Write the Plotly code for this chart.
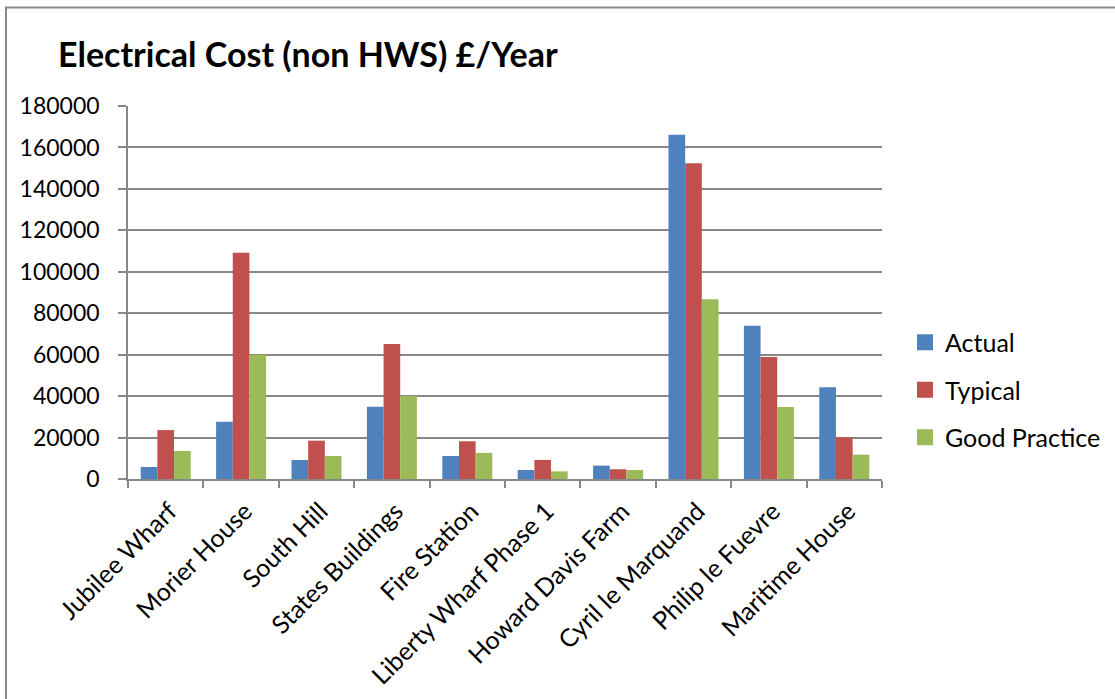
import plotly.graph_objects as go

# Annual electrical cost (excluding hot water services) per building
buildings = [
    "Jubilee Wharf", "Morier House", "South Hill", "States Buildings",
    "Fire Station", "Liberty Wharf Phase 1", "Howard Davis Farm",
    "Cyril le Marquand", "Philip le Fuevre", "Maritime House",
]
actual = [5800, 27600, 9150, 34850, 11100, 4350, 6450, 166100, 74000, 44300]
typical = [23600, 109200, 18500, 65200, 18200, 9200, 4700, 152400, 58900, 20100]
good_practice = [13500, 60000, 11100, 40000, 12600, 3700, 4350, 86800, 34800, 11750]

y_ticks = list(range(0, 180001, 20000))

series = [
    ("Actual", actual, "#4F81BD"),
    ("Typical", typical, "#C0504D"),
    ("Good Practice", good_practice, "#9BBB59"),
]

FONT = "Lato"
GRID = "#878787"

fig = go.Figure()
for name, values, colour in series:
    fig.add_trace(go.Bar(
        x=buildings, y=values, name=name,
        marker=dict(color=colour, line=dict(width=0)),
        showlegend=False,
    ))

# Legend entries with larger square swatches
for name, _, colour in series:
    fig.add_trace(go.Scatter(
        x=[None], y=[None], mode="markers", name=name,
        marker=dict(symbol="square", size=16, color=colour),
        legendgroup=name, showlegend=True,
    ))

W, H = 1115, 699
L, R, T, B = 128, W - 882, 106, H - 479
pw, ph = W - L - R, H - T - B

fig.update_layout(
    width=W, height=H,
    margin=dict(l=L, r=R, t=T, b=B, autoexpand=False),
    paper_bgcolor="white", plot_bgcolor="white",
    font=dict(family=FONT, size=22, color="black"),
    barmode="group", bargap=0.337, bargroupgap=0,
    title=dict(
        text="<b>Electrical Cost (non HWS) £/Year</b>",
        font=dict(family=FONT, size=34, color="black"),
        x=58 / W, xanchor="left", xref="container",
        y=1 - 55 / H, yanchor="middle", yref="container",
    ),
    legend=dict(
        x=(905 - L) / pw, xanchor="left",
        y=(479 - 390) / ph, yanchor="middle",
        traceorder="grouped", tracegroupgap=12,
        font=dict(family=FONT, size=25, color="black"),
        bgcolor="rgba(0,0,0,0)",
    ),
    xaxis=dict(
        type="category", tickangle=-45, tickson="boundaries",
        ticks="outside", ticklen=7, tickcolor=GRID, tickwidth=1.5,
        ticklabelstandoff=6, ticklabelshift=4,
        showline=True, linecolor=GRID, linewidth=1.5,
        showgrid=False, tickfont=dict(family=FONT, size=25, color="black"),
    ),
    yaxis=dict(
        range=[0, 180000], tickvals=y_ticks,
        ticktext=[str(v) for v in y_ticks],
        ticks="outside", ticklen=8, tickcolor=GRID, tickwidth=1.5,
        ticklabelstandoff=14,
        showline=True, linecolor=GRID, linewidth=1.5,
        showgrid=True, gridcolor=GRID, gridwidth=1.5,
        zeroline=False, tickfont=dict(family=FONT, size=23, color="black"),
    ),
)

# Chart frame around the whole figure
fig.add_shape(
    type="rect", xref="paper", yref="paper",
    x0=(6 - L) / pw, x1=(W + 20 - L) / pw,
    y0=(479 - (H + 20)) / ph, y1=(479 - 7.5) / ph,
    line=dict(color="#8a8a8a", width=2), fillcolor="rgba(0,0,0,0)",
    layer="below",
)

fig.write_html("out.html")
